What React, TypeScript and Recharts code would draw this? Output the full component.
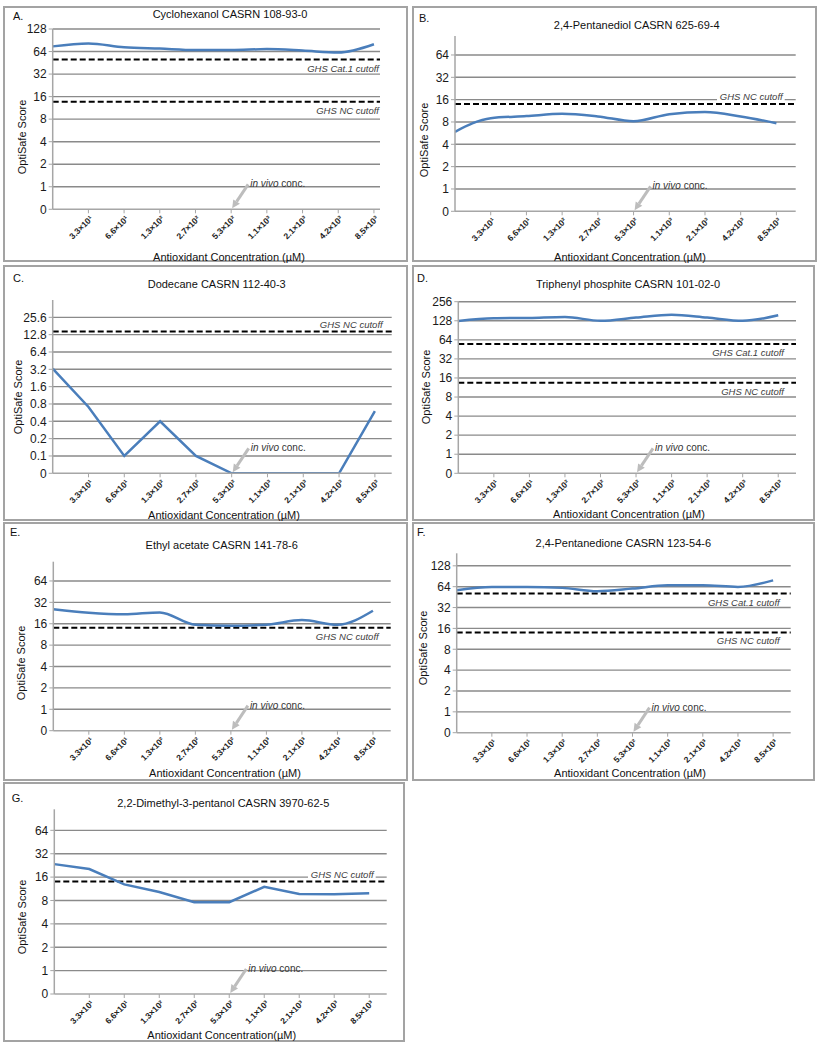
import React from 'react';
import {
  LineChart,
  Line,
  XAxis,
  YAxis,
  CartesianGrid,
  ReferenceLine,
  ReferenceDot,
} from 'recharts';

const FONT = 'Arial, "Liberation Sans", Helvetica, sans-serif';

// x categories (first point sits on the y axis, unlabeled)
const X_LABELS = ['3.3×10¹', '6.6×10¹', '1.3×10²', '2.7×10²', '5.3×10²', '1.1×10³', '2.1×10³', '4.2×10³', '8.5×10³'];
const X_TICKS = [1, 2, 3, 4, 5, 6, 7, 8, 9];
const IN_VIVO_X = 5;

// y tick labels (each step is a doubling, bottom is 0)
const Y_LABELS_64 = ['0', '1', '2', '4', '8', '16', '32', '64'];
const Y_LABELS_128 = ['0', '1', '2', '4', '8', '16', '32', '64', '128'];
const Y_LABELS_256 = ['0', '1', '2', '4', '8', '16', '32', '64', '128', '256'];
const Y_LABELS_C = ['0', '0.1', '0.2', '0.4', '0.8', '1.6', '3.2', '6.4', '12.8', '25.6'];

// OptiSafe scores
const SCORES_A = [75, 82, 73, 70, 67, 67, 69, 66, 62, 80];
const SCORES_B = [5.9, 9.0, 9.6, 10.3, 9.5, 8.2, 10.2, 10.9, 9.5, 7.7];
const SCORES_C = [3.3, 0.71, 0.1, 0.4, 0.1, 0, 0, 0, 0, 0.6];
const SCORES_D = [127, 140, 142, 147, 128, 144, 160, 144, 128, 156];
const SCORES_E = [25.5, 22.8, 21.7, 23.1, 15.5, 15.0, 15.5, 18, 15.5, 24.4];
const SCORES_F = [57, 63.5, 63.5, 61.5, 55, 60, 67, 67, 63.5, 79];
const SCORES_G = [23.5, 20.3, 12.9, 10.3, 7.6, 7.6, 12.0, 9.7, 9.6, 9.9];

// cutoffs
const CUT_A = [50, 13.7];
const CUT_B = [14];
const CUT_C = [14.5];
const CUT_D = [55, 13.5];
const CUT_E = [14];
const CUT_F = [51, 14];
const CUT_G = [14];
const CUT_TEXT_2 = ['GHS Cat.1 cutoff', 'GHS NC cutoff'];
const CUT_TEXT_1 = ['GHS NC cutoff'];

const toLevel = (v: number, base: number) => (v <= 0 ? 0 : Math.log2(v / base) + 1);

interface Panel {
  letter: string;
  title: string;
  scores: number[];
  yLabels: string[];
  base: number;
  cuts: number[];
  cutText: string[];
  above: boolean;
  labelBg: boolean;
  labelInset: number;
  curve: 'monotone' | 'linear';
  box: number[];
  plot: number[];
  xMax: number;
  yMax: number;
  letterPos: number[];
  titlePos: number[];
  yTitlePos: number[];
  xTitlePos: number[];
  xTitle: string;
}

const XT = 'Antioxidant Concentration (µM)';

const PANELS: Panel[] = [
  {
    letter: 'A.', title: 'Cyclohexanol CASRN 108-93-0', scores: SCORES_A, yLabels: Y_LABELS_128, base: 1,
    cuts: CUT_A, cutText: CUT_TEXT_2, above: false, labelBg: false, labelInset: 1, curve: 'monotone',
    box: [3, 6, 408, 262], plot: [52.7, 29, 380, 209.3], xMax: 9.17, yMax: 8,
    letterPos: [13, 16], titlePos: [230, 14], yTitlePos: [22, 137], xTitlePos: [229, 257], xTitle: XT,
  },
  {
    letter: 'B.', title: '2,4-Pentanediol CASRN 625-69-4', scores: SCORES_B, yLabels: Y_LABELS_64, base: 1,
    cuts: CUT_B, cutText: CUT_TEXT_1, above: true, labelBg: true, labelInset: 13, curve: 'monotone',
    box: [412, 6, 817, 262], plot: [455, 36, 795.7, 211.3], xMax: 9.54, yMax: 7.85,
    letterPos: [419, 18], titlePos: [636.7, 25], yTitlePos: [424, 140], xTitlePos: [630, 257], xTitle: XT,
  },
  {
    letter: 'C.', title: 'Dodecane CASRN 112-40-3', scores: SCORES_C, yLabels: Y_LABELS_C, base: 0.1,
    cuts: CUT_C, cutText: CUT_TEXT_1, above: true, labelBg: false, labelInset: 9, curve: 'linear',
    box: [3, 265, 408, 521], plot: [52.7, 300, 391.7, 473.3], xMax: 9.47, yMax: 10,
    letterPos: [13, 278], titlePos: [216.7, 284], yTitlePos: [18.3, 397], xTitlePos: [224, 515], xTitle: XT,
  },
  {
    letter: 'D.', title: 'Triphenyl phosphite CASRN 101-02-0', scores: SCORES_D, yLabels: Y_LABELS_256, base: 1,
    cuts: CUT_D, cutText: CUT_TEXT_2, above: false, labelBg: false, labelInset: 12, curve: 'monotone',
    box: [412, 265, 815, 521], plot: [458.3, 301.7, 796, 473.3], xMax: 9.5, yMax: 9,
    letterPos: [417, 278], titlePos: [628, 284], yTitlePos: [426, 387], xTitlePos: [629, 514], xTitle: XT,
  },
  {
    letter: 'E.', title: 'Ethyl acetate CASRN 141-78-6', scores: SCORES_E, yLabels: Y_LABELS_64, base: 1,
    cuts: CUT_E, cutText: CUT_TEXT_1, above: false, labelBg: false, labelInset: 12, curve: 'monotone',
    box: [3, 522, 408, 781], plot: [53.3, 561.7, 390.7, 730.7], xMax: 9.5, yMax: 7.9,
    letterPos: [10, 532], titlePos: [221.7, 545], yTitlePos: [20.7, 663], xTitlePos: [225, 773], xTitle: XT,
  },
  {
    letter: 'F.', title: '2,4-Pentanedione CASRN 123-54-6', scores: SCORES_F, yLabels: Y_LABELS_128, base: 1,
    cuts: CUT_F, cutText: CUT_TEXT_2, above: false, labelBg: false, labelInset: 11, curve: 'monotone',
    box: [412, 522, 815, 781], plot: [456.7, 553.3, 790.7, 732.7], xMax: 9.5, yMax: 8.6,
    letterPos: [417, 532], titlePos: [623.3, 543], yTitlePos: [423.3, 648], xTitlePos: [630, 773], xTitle: XT,
  },
  {
    letter: 'G.', title: '2,2-Dimethyl-3-pentanol CASRN 3970-62-5', scores: SCORES_G, yLabels: Y_LABELS_64, base: 1,
    cuts: CUT_G, cutText: CUT_TEXT_1, above: true, labelBg: true, labelInset: 13, curve: 'linear',
    box: [3, 782, 405, 1042], plot: [54.3, 809.3, 386.7, 994], xMax: 9.5, yMax: 7.9,
    letterPos: [11.7, 798], titlePos: [223.3, 803], yTitlePos: [21.7, 917], xTitlePos: [221.7, 1035],
    xTitle: 'Antioxidant Concentration(µM)',
  },
];

const XTick = (props: any) => {
  const { x, y, payload } = props;
  const ax = x + 5;
  const ay = y + 4;
  return (
    <text
      x={ax}
      y={ay}
      transform={`rotate(-45, ${ax}, ${ay})`}
      textAnchor="end"
      fontSize={8.5}
      fontWeight="bold"
      fill="#222"
      fontFamily={FONT}
    >
      {X_LABELS[payload.value - 1]}
    </text>
  );
};

const cutoffLabel = (text: string, p: Panel) => (props: any) => {
  const vb = props.viewBox;
  const x = vb.x + vb.width - p.labelInset;
  const y = p.above ? vb.y - 3.5 : vb.y + 12;
  const w = text.length * 4.9;
  return (
    <g>
      {p.labelBg && <rect x={x - w - 2} y={vb.y - 12} width={w + 4} height={9} fill="#fff" />}
      <text x={x} y={y} textAnchor="end" fontSize={9.5} fontStyle="italic" fill="#404040" fontFamily={FONT}>
        {text}
      </text>
    </g>
  );
};

const InVivoArrow = (props: any) => {
  const { cx, cy } = props;
  const tx = cx + 17;
  const ty = cy - 25;
  const hx = cx + 1;
  const hy = cy - 1;
  const len = Math.hypot(hx - tx, hy - ty);
  const dx = (hx - tx) / len;
  const dy = (hy - ty) / len;
  const bx = hx - dx * 8;
  const by = hy - dy * 8;
  const px = -dy * 4;
  const py = dx * 4;
  return (
    <g>
      <line x1={tx} y1={ty} x2={bx} y2={by} stroke="#bdbdbd" strokeWidth={3} />
      <polygon points={`${hx},${hy} ${bx + px},${by + py} ${bx - px},${by - py}`} fill="#bdbdbd" />
      <text x={cx + 19} y={cy - 22} fontSize={10} fill="#333" fontFamily={FONT}>
        <tspan fontStyle="italic">in vivo</tspan>
        {' conc.'}
      </text>
    </g>
  );
};

const textStyle: React.CSSProperties = {
  position: 'absolute',
  fontFamily: FONT,
  fontSize: 11,
  color: '#111',
  whiteSpace: 'nowrap',
  lineHeight: 1,
};

const PanelChart = ({ p }: { p: Panel }) => {
  const [x1, y1, x2, y2] = p.box;
  const [pl, pt, pr, pb] = p.plot;
  const W = x2 - x1;
  const H = y2 - y1;
  const yW = 36;
  const margin = { top: pt - y1, right: x2 - pr, left: pl - x1 - yW, bottom: 4 };
  const xH = y2 - 4 - pb;
  const data = p.scores.map((v, i) => ({ x: i, lv: toLevel(v, p.base) }));
  const yTicks = p.yLabels.map((_, i) => i);

  return (
    <>
      <div
        style={{
          position: 'absolute', left: x1, top: y1, width: W, height: H,
          border: '2px solid #a3a3a3', boxSizing: 'border-box', background: '#fff',
        }}
      />
      <div style={{ position: 'absolute', left: x1, top: y1 }}>
        <LineChart width={W} height={H} data={data} margin={margin}>
          <CartesianGrid
            vertical={false}
            horizontalValues={yTicks.slice(1)}
            stroke="#8a8a8a"
            strokeWidth={1.4}
          />
          <XAxis
            type="number"
            dataKey="x"
            domain={[0, p.xMax]}
            ticks={X_TICKS}
            interval={0}
            allowDataOverflow
            height={xH}
            tick={<XTick />}
            tickSize={4}
            axisLine={{ stroke: '#a6a6a6', strokeWidth: 1.5 }}
            tickLine={{ stroke: '#a6a6a6' }}
          />
          <YAxis
            type="number"
            domain={[0, p.yMax]}
            ticks={yTicks}
            interval={0}
            allowDataOverflow
            width={yW}
            tickSize={4}
            tickFormatter={(v: number) => p.yLabels[v]}
            tick={{ fontSize: 12, fill: '#1a1a1a', fontFamily: FONT }}
            axisLine={{ stroke: '#a6a6a6', strokeWidth: 1.5 }}
            tickLine={{ stroke: '#a6a6a6' }}
          />
          {p.cuts.map((c, i) => (
            <ReferenceLine
              key={i}
              y={toLevel(c, p.base)}
              stroke="#000"
              strokeWidth={2}
              strokeDasharray="6 3"
              label={cutoffLabel(p.cutText[i], p)}
            />
          ))}
          <ReferenceDot x={IN_VIVO_X} y={0} r={0} shape={InVivoArrow} />
          <Line
            type={p.curve}
            dataKey="lv"
            stroke="#4a7ebb"
            strokeWidth={2.5}
            dot={false}
            activeDot={false}
            isAnimationActive={false}
          />
        </LineChart>
      </div>
      <div style={{ ...textStyle, left: p.letterPos[0], top: p.letterPos[1], transform: 'translateY(-50%)' }}>
        {p.letter}
      </div>
      <div style={{ ...textStyle, left: p.titlePos[0], top: p.titlePos[1], transform: 'translate(-50%,-50%)' }}>
        {p.title}
      </div>
      <div
        style={{
          ...textStyle, left: p.yTitlePos[0], top: p.yTitlePos[1],
          transform: 'translate(-50%,-50%) rotate(-90deg)',
        }}
      >
        OptiSafe Score
      </div>
      <div style={{ ...textStyle, left: p.xTitlePos[0], top: p.xTitlePos[1], transform: 'translate(-50%,-50%)' }}>
        {p.xTitle}
      </div>
    </>
  );
};

export default function App() {
  return (
    <div style={{ position: 'absolute', left: 0, top: 0, width: 820, height: 1050, background: '#fff' }}>
      {PANELS.map((p) => (
        <PanelChart key={p.letter} p={p} />
      ))}
    </div>
  );
}
